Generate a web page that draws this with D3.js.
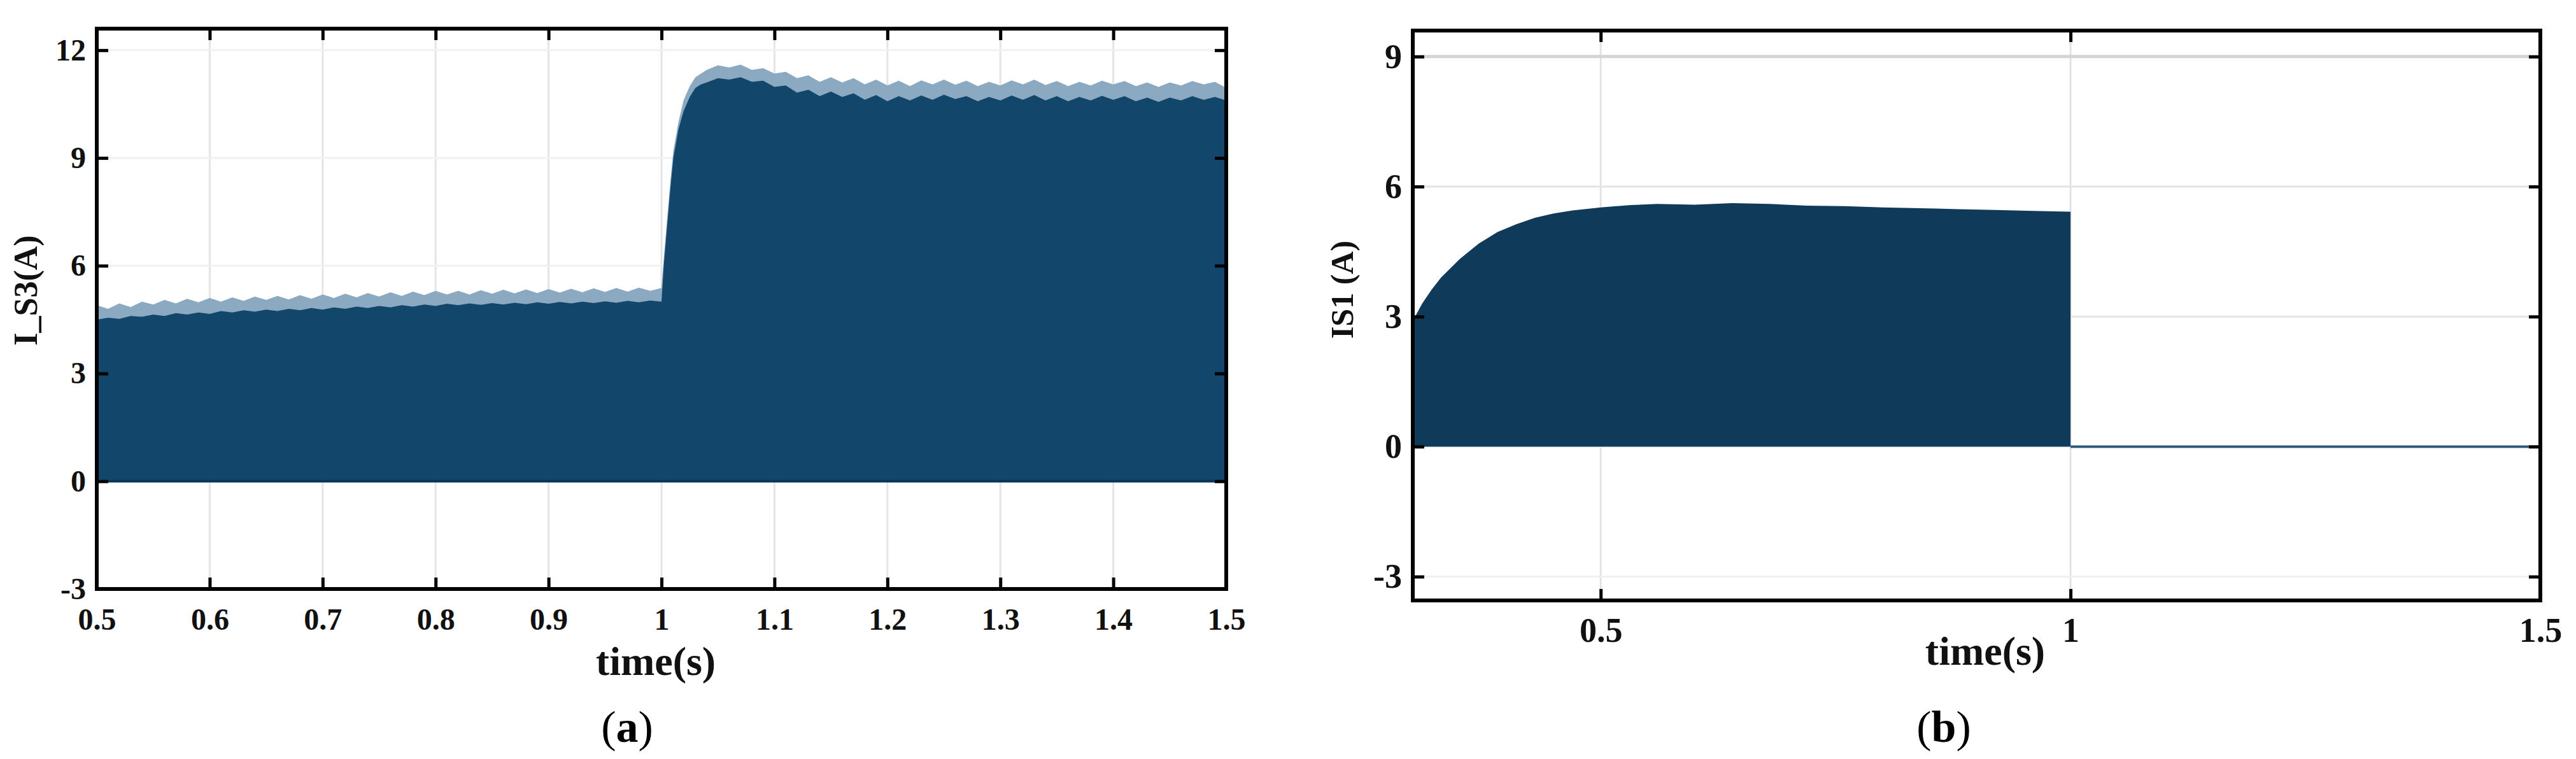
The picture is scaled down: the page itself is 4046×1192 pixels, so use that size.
<!DOCTYPE html>
<html><head><meta charset="utf-8">
<script src="https://cdn.jsdelivr.net/npm/d3@7"></script>
<style>body{margin:0;background:#fff}svg{display:block}</style>
</head><body>
<svg id="c" width="4046" height="1192"></svg>
<script>
// ---------- Panel (a) data: I_S3 envelope ----------
const timeA = [0.50,0.51,0.52,0.53,0.54,0.55,0.56,0.57,0.58,0.59,0.60,0.61,0.62,0.63,0.64,0.65,0.66,0.67,0.68,0.69,0.70,
  0.71,0.72,0.73,0.74,0.75,0.76,0.77,0.78,0.79,0.80,0.81,0.82,0.83,0.84,0.85,0.86,0.87,0.88,0.89,0.90,
  0.91,0.92,0.93,0.94,0.95,0.96,0.97,0.98,0.99,1.00,
  1.002,1.0055,1.008,1.0105,1.015,1.0195,1.025,1.030,1.035,
  1.04,1.05,1.06,1.07,1.08,1.09,1.10,1.11,1.12,1.13,1.14,1.15,1.16,1.17,1.18,1.19,
  1.20,1.21,1.22,1.23,1.24,1.25,1.26,1.27,1.28,1.29,1.30,1.31,1.32,1.33,1.34,1.35,1.36,1.37,1.38,1.39,
  1.40,1.41,1.42,1.43,1.44,1.45,1.46,1.47,1.48,1.49,1.50];
// top of the light ripple band
const upperA = [4.90,4.80,4.95,4.85,5.00,4.92,5.05,4.95,5.08,4.98,5.10,5.00,5.12,5.02,5.14,5.05,5.16,5.06,5.18,5.08,5.20,
  5.10,5.22,5.12,5.24,5.14,5.26,5.16,5.28,5.18,5.30,5.20,5.30,5.20,5.32,5.22,5.33,5.23,5.34,5.24,5.35,
  5.25,5.36,5.26,5.37,5.27,5.38,5.28,5.39,5.30,5.38,
  6.20,7.50,8.40,9.20,10.00,10.60,11.00,11.25,11.35,
  11.45,11.58,11.52,11.60,11.45,11.50,11.35,11.40,11.22,11.30,11.12,11.25,11.10,11.22,11.05,11.18,
  11.02,11.15,11.00,11.16,11.05,11.18,11.04,11.15,11.00,11.12,11.02,11.16,11.05,11.18,11.03,11.14,11.00,11.12,11.02,11.15,
  11.05,11.14,11.00,11.10,10.98,11.10,11.02,11.14,11.05,11.12,10.95];
// top of the dense dark fill
const lowerA = [4.50,4.55,4.52,4.60,4.58,4.64,4.60,4.68,4.64,4.70,4.66,
  4.74,4.70,4.76,4.72,4.78,4.74,4.80,4.76,4.82,4.78,
  4.84,4.80,4.86,4.82,4.88,4.84,4.90,4.86,4.92,4.88,
  4.94,4.90,4.95,4.91,4.96,4.92,4.97,4.93,4.98,4.94,
  4.99,4.95,5.00,4.96,5.01,4.97,5.02,4.98,5.03,5.00,
  6.00,7.30,8.20,9.00,9.80,10.30,10.70,10.95,11.05,
  11.10,11.22,11.18,11.25,11.12,11.15,10.98,11.02,10.82,10.90,10.72,10.85,10.70,10.80,10.62,10.75,
  10.58,10.72,10.60,10.74,10.62,10.76,10.64,10.72,10.58,10.70,10.60,10.74,10.62,10.75,10.60,10.72,10.58,10.70,10.60,10.73,
  10.62,10.72,10.58,10.68,10.56,10.68,10.60,10.72,10.62,10.70,10.60];
const ticksAX = [0.5,0.6,0.7,0.8,0.9,1,1.1,1.2,1.3,1.4,1.5];
const ticksAY = [-3,0,3,6,9,12];

// ---------- Panel (b) data: IS1 envelope ----------
const timeB = [0.30,0.31,0.32,0.33,0.35,0.37,0.39,0.41,0.43,0.45,0.47,0.50,0.53,0.56,0.60,0.64,0.68,0.72,0.76,0.80,0.84,0.88,0.92,0.96,1.00];
const valueB = [2.90,3.30,3.62,3.90,4.33,4.68,4.95,5.13,5.28,5.38,5.45,5.52,5.57,5.60,5.58,5.62,5.60,5.56,5.55,5.52,5.50,5.48,5.46,5.44,5.42];
const timeBOff = [1.00,1.50];
const valueBOff = [0,0];
const ticksBX = [0.5,1,1.5];
const ticksBY = [-3,0,3,6,9];

const svg = d3.select('#c');
const FONT = '"Liberation Serif","Times New Roman",serif';

function frameAndAxes(g, x, y, xt, yt, opt) {
  const [x0, x1] = x.range(), [y0, y1] = y.range(); // y0 bottom, y1 top
  // grid
  g.append('g').selectAll('line').data(xt.filter(d => d > x.domain()[0] && d < x.domain()[1]))
    .join('line').attr('x1', d => x(d)).attr('x2', d => x(d)).attr('y1', y1).attr('y2', y0)
    .attr('stroke', opt.vgrid).attr('stroke-width', 3);
  g.append('g').selectAll('line').data(yt)
    .join('line').attr('x1', x0).attr('x2', x1).attr('y1', d => y(d)).attr('y2', d => y(d))
    .attr('stroke', d => opt.hgrid(d)).attr('stroke-width', d => d === opt.strongY ? 5 : 3);
}

function axes(g, x, y, xt, yt, opt) {
  const [x0, x1] = x.range(), [y0, y1] = y.range();
  const tl = 18;
  const fmt = d => String(d);
  const bottom = g.append('g').attr('transform', `translate(0,${y0})`)
    .call(d3.axisBottom(x).tickValues(xt).tickSize(-tl).tickPadding(opt.xpad).tickFormat(fmt));
  const top = g.append('g').attr('transform', `translate(0,${y1})`)
    .call(d3.axisTop(x).tickValues(xt).tickSize(-tl).tickFormat(''));
  const left = g.append('g').attr('transform', `translate(${x0},0)`)
    .call(d3.axisLeft(y).tickValues(yt).tickSize(-tl).tickPadding(opt.ypad).tickFormat(fmt));
  const right = g.append('g').attr('transform', `translate(${x1},0)`)
    .call(d3.axisRight(y).tickValues(yt).tickSize(-tl).tickFormat(''));
  [bottom, top, left, right].forEach(a => {
    a.select('.domain').remove();
    a.selectAll('line').attr('stroke', '#000').attr('stroke-width', 5);
    a.selectAll('text').attr('font-family', FONT).attr('font-weight', 'bold')
      .attr('font-size', opt.fs).attr('fill', '#111');
  });
  g.append('rect').attr('x', x0).attr('y', y1).attr('width', x1 - x0).attr('height', y0 - y1)
    .attr('fill', 'none').attr('stroke', '#000').attr('stroke-width', 6);
}

// ---------- Panel (a) ----------
{
  const g = svg.append('g');
  const x = d3.scaleLinear().domain([0.5, 1.5]).range([152, 1926]);
  const y = d3.scaleLinear().domain([-3, 12.6]).range([925, 45]);
  frameAndAxes(g, x, y, ticksAX, ticksAY, {vgrid: '#e4e4e4', hgrid: d => '#f1f1f1', strongY: null});
  const dataA = timeA.map((t, i) => ({t, u: upperA[i], l: lowerA[i]}));
  g.append('path').datum(dataA)
    .attr('d', d3.area().x(d => x(d.t)).y0(y(0)).y1(d => y(d.u)))
    .attr('fill', '#8ba9c0');
  g.append('path').datum(dataA)
    .attr('d', d3.area().x(d => x(d.t)).y0(y(0)).y1(d => y(d.l)))
    .attr('fill', '#12466b');
  g.append('line').attr('x1', x(0.5)).attr('x2', x(1.5)).attr('y1', y(0)).attr('y2', y(0))
    .attr('stroke', '#0a3558').attr('stroke-width', 4);
  axes(g, x, y, ticksAX, ticksAY, {xpad: 30, ypad: 17, fs: 48});
  g.append('text').attr('transform', 'translate(58,456) rotate(-90)')
    .attr('text-anchor', 'middle').attr('font-family', FONT).attr('font-weight', 'bold')
    .attr('font-size', 52).attr('fill', '#111').text('I_S3(A)');
  g.append('text').attr('x', 1030).attr('y', 1060).attr('text-anchor', 'middle')
    .attr('font-family', FONT).attr('font-weight', 'bold').attr('font-size', 64).attr('fill', '#111').text('time(s)');
  const ca = g.append('text').attr('x', 985).attr('y', 1165).attr('text-anchor', 'middle')
    .attr('font-family', FONT).attr('font-size', 70).attr('fill', '#000');
  ca.append('tspan').text('(');
  ca.append('tspan').attr('font-weight', 'bold').text('a');
  ca.append('tspan').text(')');
}

// ---------- Panel (b) ----------
{
  const g = svg.append('g');
  const x = d3.scaleLinear().domain([0.3, 1.5]).range([2219, 3990]);
  const y = d3.scaleLinear().domain([-3.55, 9.6]).range([943, 48]);
  frameAndAxes(g, x, y, ticksBX, ticksBY,
    {vgrid: '#e2e2e2', hgrid: d => d === 9 ? '#d4d4d4' : (d === 6 || d === 3 ? '#e4e4e4' : '#f0f0f0'), strongY: 9});
  const dataB = timeB.map((t, i) => ({t, v: valueB[i]}));
  g.append('path').datum(dataB)
    .attr('d', d3.area().x(d => x(d.t)).y0(y(0)).y1(d => y(d.v)))
    .attr('fill', '#0f3a59');
  const offB = timeBOff.map((t, i) => ({t, v: valueBOff[i]}));
  g.append('path').datum(offB)
    .attr('d', d3.line().x(d => x(d.t)).y(d => y(d.v)))
    .attr('fill', 'none').attr('stroke', '#2e5878').attr('stroke-width', 4);
  axes(g, x, y, ticksBX, ticksBY, {xpad: 27, ypad: 17, fs: 54});
  g.append('text').attr('transform', 'translate(2125,455) rotate(-90)')
    .attr('text-anchor', 'middle').attr('font-family', FONT).attr('font-weight', 'bold')
    .attr('font-size', 50).attr('fill', '#111').text('IS1 (A)');
  g.append('text').attr('x', 3118).attr('y', 1044).attr('text-anchor', 'middle')
    .attr('font-family', FONT).attr('font-weight', 'bold').attr('font-size', 64).attr('fill', '#111').text('time(s)');
  const cb = g.append('text').attr('x', 3053).attr('y', 1165).attr('text-anchor', 'middle')
    .attr('font-family', FONT).attr('font-size', 70).attr('fill', '#000');
  cb.append('tspan').text('(');
  cb.append('tspan').attr('font-weight', 'bold').text('b');
  cb.append('tspan').text(')');
}
</script>
</body></html>
